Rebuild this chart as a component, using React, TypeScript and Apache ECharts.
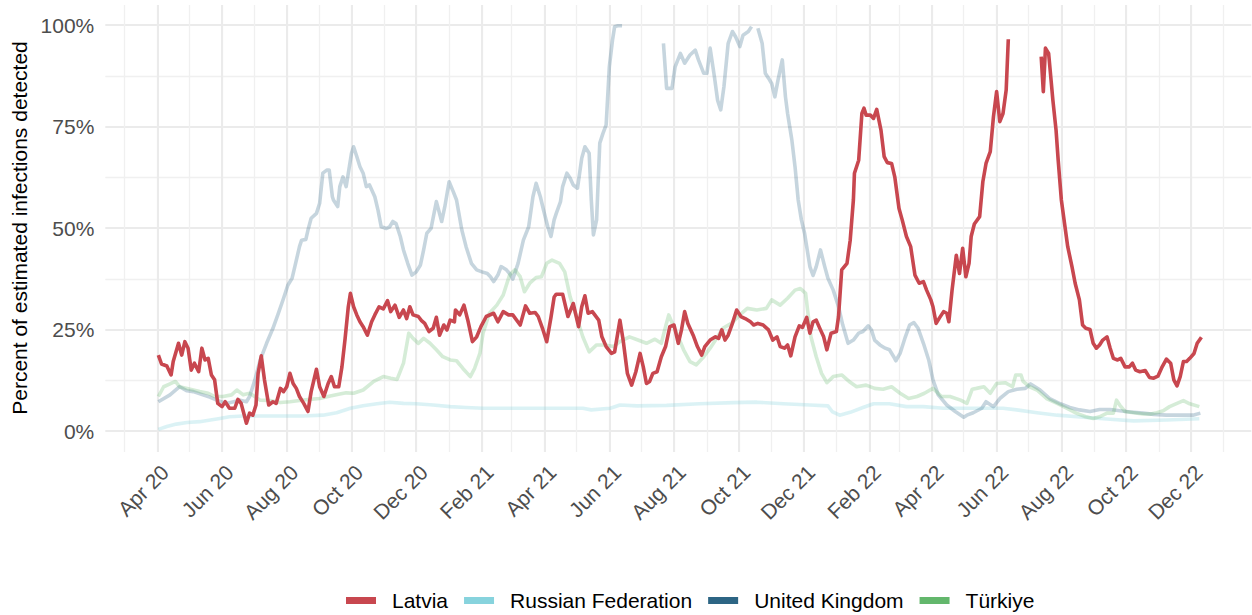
import React, { useEffect, useRef } from "react";
import * as echarts from "echarts";

// x axis: one category per day, from 2020-02-12 to 2023-01-27
const AXIS_START_UTC = Date.UTC(2020, 1, 12);
const AXIS_DAYS = 1080;
// series x values are days since 2020-04-01, which is 49 days after the axis start
const ORIGIN_OFFSET = 49;

const MONTHS = ["Jan", "Feb", "Mar", "Apr", "May", "Jun", "Jul", "Aug", "Sep", "Oct", "Nov", "Dec"];
const LABEL_MONTHS = [2, 4, 6, 8, 10, 12];
const Y_TICKS = [0, 25, 50, 75, 100];

const SERIES_NAMES = ["Latvia", "Russian Federation", "United Kingdom", "Türkiye"];
const SERIES_COLORS = ["#C8474F", "#87D3DD", "#2D6584", "#63B76C"];
const SERIES_FADE = [1, 0.3, 0.27, 0.27];

// [days since 2020-04-01, percent detected]
const LATVIA: [number, number | null][] = [
  [1,18.7],[4,16.5],[9,16.0],[13,13.8],[15,17.1],[20,21.6],[23,18.7],[26,22.0],[29,20.4],[32,15.0],[35,16.7],[39,14.6],[42,20.4],[45,17.5],[48,17.9],[51,13.8],[54,12.6],[57,6.8],[61,6.0],[64,7.2],[68,5.6],[73,5.6],[76,7.8],[79,6.8],[84,1.9],[87,4.4],[90,3.9],[93,6.4],[95,14.2],[98,18.5],[101,12.6],[105,6.4],[109,7.2],[112,6.8],[116,10.5],[119,9.7],[122,10.9],[125,14.2],[128,11.7],[131,10.5],[134,8.5],[138,6.8],[142,4.8],[145,9.7],[150,15.2],[153,10.9],[157,8.5],[161,11.7],[164,13.4],[167,10.9],[171,10.9],[174,15.8],[177,22.8],[180,30.6],[182,33.9],[185,30.6],[188,28.6],[191,26.9],[194,25.7],[198,23.6],[202,26.9],[205,28.6],[209,30.6],[213,30.1],[217,32.1],[220,29.4],[224,31.0],[228,28.0],[232,29.8],[235,27.7],[238,30.6],[241,28.6],[246,28.2],[249,27.2],[252,26.5],[256,24.5],[260,25.3],[263,28.0],[266,23.6],[270,26.1],[273,24.9],[276,27.3],[280,26.9],[281,29.8],[285,28.6],[289,31.0],[293,26.9],[297,22.0],[301,23.2],[305,25.7],[310,28.2],[317,29.0],[321,26.9],[326,29.4],[331,28.6],[335,28.6],[342,26.1],[347,30.8],[351,29.0],[356,29.2],[359,28.2],[363,25.3],[367,22.0],[371,28.0],[374,33.0],[376,33.7],[382,33.7],[387,28.2],[392,31.4],[397,25.7],[400,30.6],[403,33.3],[406,29.0],[410,29.4],[416,27.3],[419,23.2],[423,20.8],[428,19.1],[431,19.5],[436,27.3],[439,22.4],[443,14.2],[447,11.3],[451,14.6],[455,19.1],[458,15.8],[461,11.7],[464,12.2],[467,14.2],[471,14.6],[475,18.3],[479,20.8],[483,25.7],[487,26.1],[491,21.6],[494,24.9],[497,29.4],[500,26.5],[505,23.6],[509,20.8],[513,18.7],[516,20.8],[521,22.4],[526,23.2],[529,22.8],[532,24.9],[535,22.4],[538,23.6],[542,26.5],[546,29.8],[550,28.2],[554,27.7],[559,26.9],[562,26.1],[566,26.5],[571,26.1],[576,24.9],[580,22.4],[584,23.2],[587,20.8],[591,20.4],[594,21.2],[597,18.5],[601,23.2],[605,25.9],[608,25.5],[612,28.0],[615,24.1],[618,26.9],[621,27.3],[625,24.9],[628,23.2],[631,20.0],[635,24.1],[640,24.5],[642,28.2],[645,39.7],[650,41.3],[653,47.0],[656,56.9],[657,63.5],[661,66.7],[664,78.2],[666,79.5],[668,77.8],[672,77.8],[675,77.0],[678,79.2],[682,74.1],[685,67.6],[688,66.1],[692,65.9],[695,62.6],[699,54.8],[702,52.0],[706,47.9],[710,45.4],[714,38.4],[718,36.4],[722,36.8],[725,34.7],[729,32.3],[731,30.6],[734,26.5],[737,27.8],[741,29.4],[744,29.0],[746,26.9],[749,34.7],[753,43.3],[756,38.8],[759,45.0],[762,38.0],[765,41.3],[767,47.9],[770,51.0],[775,52.8],[778,61.4],[781,65.9],[785,68.8],[788,77.4],[791,83.6],[794,76.2],[797,78.2],[800,84.0],[802,96.5],[803,null],[833,92.2],[835,83.6],[837,94.3],[840,93.0],[842,87.3],[844,81.5],[847,74.1],[849,66.7],[852,56.9],[855,51.1],[858,45.4],[862,40.5],[865,36.4],[869,32.3],[872,26.1],[875,25.3],[879,25.0],[882,21.6],[885,20.4],[888,21.2],[891,22.4],[895,23.2],[898,20.4],[901,17.9],[905,17.5],[908,17.9],[912,15.8],[916,15.8],[919,16.7],[922,15.0],[926,14.6],[931,14.9],[935,13.2],[939,13.0],[943,13.5],[947,15.8],[951,17.7],[955,16.7],[958,12.6],[961,11.1],[964,13.4],[967,17.1],[970,17.1],[973,17.9],[977,19.1],[980,21.6],[984,23.1]
];

const RUSSIA: [number, number | null][] = [
  [1,0.4],[9,1.1],[18,1.7],[28,2.1],[40,2.3],[50,2.7],[59,3.1],[68,3.5],[81,3.7],[100,3.7],[119,3.7],[138,3.7],[156,3.9],[169,4.5],[182,5.6],[194,6.2],[207,6.7],[219,7.1],[232,6.8],[244,6.7],[260,6.4],[276,6.0],[291,5.8],[307,5.6],[323,5.6],[339,5.6],[354,5.6],[370,5.6],[401,5.6],[409,5.2],[427,5.6],[436,6.4],[452,6.2],[480,6.3],[511,6.7],[543,7.0],[565,7.1],[590,6.7],[615,6.4],[632,6.2],[636,4.8],[643,3.9],[653,4.6],[665,5.8],[675,6.7],[690,6.7],[706,6.0],[722,6.0],[741,5.6],[757,5.6],[779,5.6],[797,5.6],[810,5.2],[829,4.5],[848,3.9],[873,3.4],[898,2.9],[920,2.5],[951,2.7],[982,3.0]
];

const UNITED_KINGDOM: [number, number | null][] = [
  [1,7.2],[12,8.9],[21,10.9],[28,9.9],[34,9.7],[43,8.9],[50,8.3],[56,7.6],[65,6.8],[78,7.6],[84,7.2],[87,8.5],[92,12.6],[97,17.5],[103,21.6],[109,25.3],[114,28.9],[119,32.7],[123,35.9],[127,37.6],[130,40.9],[134,45.4],[136,47.0],[140,47.2],[142,49.5],[145,52.4],[150,53.6],[153,56.1],[156,63.5],[160,64.3],[162,64.3],[165,57.7],[166,56.9],[170,55.3],[172,60.2],[175,62.6],[178,60.2],[180,63.5],[183,68.4],[185,70.0],[188,67.6],[191,65.1],[194,63.5],[197,60.2],[200,60.6],[205,57.7],[208,54.4],[211,50.3],[216,49.9],[219,50.3],[222,51.6],[225,51.1],[229,47.9],[232,44.6],[236,41.3],[240,38.4],[244,39.2],[248,40.9],[251,44.6],[254,48.7],[258,49.9],[263,56.5],[268,51.6],[271,55.3],[275,61.4],[279,58.9],[282,56.9],[287,49.5],[291,45.4],[296,41.3],[301,39.7],[306,39.2],[311,38.8],[314,38.0],[317,36.8],[321,38.4],[324,40.5],[329,39.7],[332,38.8],[335,37.4],[340,41.3],[345,47.0],[350,50.3],[354,57.7],[357,61.0],[361,57.7],[364,54.4],[368,50.3],[371,47.9],[374,52.0],[376,53.6],[380,56.5],[382,60.2],[386,63.5],[389,62.3],[392,60.6],[396,59.8],[400,67.2],[403,70.0],[407,68.4],[409,56.9],[411,48.3],[414,52.0],[417,70.9],[420,73.3],[423,75.4],[426,89.7],[429,96.3],[431,99.6],[434,99.8],[438,99.8],[439,null],[477,95.5],[480,84.4],[485,84.4],[488,89.7],[493,93.0],[497,90.6],[502,92.6],[507,93.8],[510,91.4],[515,88.1],[518,88.1],[521,94.3],[525,87.3],[528,81.5],[531,79.1],[534,84.8],[538,95.5],[542,98.4],[545,97.1],[549,94.7],[552,97.5],[557,98.4],[560,99.6],[563,null],[566,99.2],[570,95.5],[573,88.1],[576,86.9],[579,85.6],[582,82.3],[585,86.5],[589,91.4],[592,82.3],[594,78.2],[598,71.7],[601,65.1],[604,56.9],[607,52.0],[610,48.7],[615,40.5],[618,38.3],[621,40.5],[625,44.6],[629,40.5],[632,37.6],[637,34.7],[642,30.6],[646,26.1],[651,21.6],[656,22.4],[661,24.1],[665,24.5],[670,25.9],[673,24.9],[676,22.4],[681,21.2],[686,20.4],[690,20.0],[694,18.3],[696,17.3],[700,19.1],[705,23.2],[709,26.1],[713,26.7],[717,25.3],[722,21.6],[727,17.5],[731,12.6],[736,8.9],[744,6.4],[752,4.8],[760,3.4],[763,3.9],[769,4.5],[777,5.6],[781,7.2],[788,6.0],[794,8.0],[802,9.7],[810,10.3],[818,10.5],[823,11.6],[832,10.1],[841,8.0],[851,6.7],[860,5.8],[869,5.2],[879,4.8],[888,5.3],[898,5.3],[907,5.0],[917,4.7],[929,4.4],[939,4.1],[951,3.9],[967,3.9],[976,3.9],[983,4.4]
];

const TURKIYE: [number, number | null][] = [
  [1,8.5],[6,10.9],[12,11.6],[17,12.2],[21,10.9],[31,10.3],[40,9.7],[48,9.3],[54,8.5],[62,8.5],[70,8.9],[75,10.1],[81,8.9],[87,9.3],[97,7.6],[106,7.5],[116,7.0],[125,7.2],[134,7.5],[144,7.8],[153,8.0],[163,8.6],[172,9.1],[178,9.4],[185,9.3],[194,10.1],[204,12.2],[213,13.4],[220,13.0],[226,12.7],[232,16.7],[237,24.1],[241,22.8],[246,21.6],[251,22.8],[257,21.6],[263,20.0],[269,18.3],[276,17.5],[282,17.3],[288,15.4],[295,13.4],[299,15.4],[304,19.1],[307,24.1],[313,29.0],[320,31.0],[326,33.5],[332,38.4],[337,39.7],[342,38.0],[346,34.3],[351,36.4],[357,37.8],[362,38.0],[367,41.3],[372,42.1],[379,41.3],[384,39.2],[389,33.1],[395,28.2],[401,23.2],[407,19.5],[414,21.2],[422,21.2],[430,20.8],[436,22.0],[445,23.2],[453,22.4],[461,21.6],[469,22.6],[475,21.6],[479,25.7],[482,28.6],[486,26.1],[491,23.2],[496,20.0],[502,17.1],[508,16.3],[515,18.3],[521,20.4],[527,22.8],[533,25.3],[541,26.5],[549,28.6],[556,30.2],[565,29.8],[574,30.2],[579,32.3],[587,31.0],[594,32.7],[601,34.7],[606,35.1],[611,33.9],[613,29.4],[616,23.2],[621,18.3],[626,14.2],[631,11.9],[637,13.4],[645,13.8],[653,12.0],[659,10.9],[668,11.3],[676,10.5],[684,10.3],[692,10.9],[700,9.3],[708,8.0],[716,8.5],[723,9.3],[731,10.5],[739,8.5],[747,8.5],[757,7.6],[763,6.8],[768,10.3],[772,10.5],[779,10.9],[785,9.3],[791,11.7],[799,11.9],[806,10.9],[809,13.8],[814,13.8],[816,12.2],[822,10.9],[829,10.1],[838,8.0],[848,6.8],[857,5.6],[866,4.4],[875,3.5],[882,3.1],[888,3.5],[895,4.4],[901,4.4],[904,7.6],[907,6.4],[912,4.8],[920,4.5],[929,4.2],[936,4.2],[942,4.5],[948,5.0],[954,6.0],[961,6.8],[967,7.5],[973,6.7],[982,6.0]
];

const SERIES_DATA = [LATVIA, RUSSIA, UNITED_KINGDOM, TURKIYE];

const FONT = "'Liberation Sans', Arial, Helvetica, sans-serif";

function buildDates(): string[] {
  const out: string[] = [];
  for (let i = 0; i <= AXIS_DAYS; i++) {
    out.push(new Date(AXIS_START_UTC + i * 86400000).toISOString().slice(0, 10));
  }
  return out;
}

function isMonthStart(v: string) {
  return v.slice(8, 10) === "01";
}
function isLabelMonth(v: string) {
  return isMonthStart(v) && LABEL_MONTHS.indexOf(Number(v.slice(5, 7))) >= 0;
}

function hexToRgba(hex: string, a: number) {
  const n = parseInt(hex.slice(1), 16);
  return `rgba(${(n >> 16) & 255},${(n >> 8) & 255},${n & 255},${a})`;
}

export default function App() {
  const ref = useRef<HTMLDivElement>(null);

  useEffect(() => {
    document.body.style.margin = "0";
    if (!ref.current) return;
    const chart = echarts.init(ref.current, undefined, { renderer: "svg" });
    const dates = buildDates();

    const gridLeft = 105.3;
    const gridRight = 0.7;

    // draw order: faded series first, Latvia on top
    const order = [1, 2, 3, 0];
    const series = order.map((i) => ({
      type: "line",
      name: SERIES_NAMES[i],
      xAxisIndex: 1,
      yAxisIndex: 1,
      data: SERIES_DATA[i].map(([d, v]) => [d + ORIGIN_OFFSET, v]),
      symbol: "none",
      showSymbol: false,
      connectNulls: false,
      clip: false,
      silent: true,
      color: SERIES_COLORS[i],
      lineStyle: {
        width: 3.6,
        color: SERIES_FADE[i] < 1 ? hexToRgba(SERIES_COLORS[i], SERIES_FADE[i]) : SERIES_COLORS[i],
        cap: "butt",
        join: "round",
      },
      emphasis: { disabled: true },
      z: i === 0 ? 4 : 3,
    }));

    const option: any = {
      animation: false,
      backgroundColor: "#ffffff",
      textStyle: { fontFamily: FONT },
      grid: [
        { left: gridLeft, right: gridRight, top: 5, bottom: 163 },
        { left: gridLeft, right: gridRight, top: 25, bottom: 184 },
      ],
      xAxis: [
        {
          gridIndex: 0,
          type: "category",
          data: dates,
          boundaryGap: false,
          axisLine: { show: false },
          axisTick: { show: false },
          axisLabel: {
            show: true,
            interval: (_i: number, v: string) => isLabelMonth(v),
            formatter: (v: string) => `${MONTHS[Number(v.slice(5, 7)) - 1]} ${v.slice(2, 4)}`,
            rotate: 45,
            align: "right",
            verticalAlign: "top",
            lineHeight: 22,
            margin: 9,
            fontSize: 21,
            color: "#4D4D4D",
            fontFamily: FONT,
          },
          splitLine: {
            show: true,
            interval: (_i: number, v: string) => isMonthStart(v),
            lineStyle: { color: "#F0F0F0", width: 1.3 },
          },
        },
        {
          gridIndex: 1,
          type: "category",
          data: dates,
          boundaryGap: false,
          show: false,
          splitLine: { show: false },
        },
        {
          gridIndex: 0,
          type: "category",
          data: dates,
          boundaryGap: false,
          axisLine: { show: false },
          axisTick: { show: false },
          axisLabel: { show: false },
          splitLine: {
            show: true,
            interval: (_i: number, v: string) => isLabelMonth(v),
            lineStyle: { color: "#EBEBEB", width: 2 },
          },
        },
      ],
      yAxis: [
        {
          gridIndex: 0,
          type: "value",
          min: -5,
          max: 105,
          show: false,
          splitLine: { show: false },
        },
        {
          gridIndex: 1,
          type: "value",
          min: Y_TICKS[0],
          max: Y_TICKS[Y_TICKS.length - 1],
          interval: Y_TICKS[1] - Y_TICKS[0],
          axisLine: { show: false },
          axisTick: { show: false },
          axisLabel: {
            formatter: (v: number) => `${v}%`,
            margin: 11,
            fontSize: 21,
            color: "#4D4D4D",
            fontFamily: FONT,
          },
          splitLine: { show: true, lineStyle: { color: "#EBEBEB", width: 2 } },
          minorTick: { show: false, splitNumber: 2 },
          minorSplitLine: { show: true, lineStyle: { color: "#F0F0F0", width: 1.3 } },
          name: "Percent of estimated infections detected",
          nameLocation: "middle",
          nameGap: 73,
          nameTextStyle: { fontSize: 21, color: "#000000", fontFamily: FONT },
        },
      ],
      legend: {
        show: true,
        orient: "horizontal",
        left: 346,
        top: 590,
        padding: 0,
        itemGap: 16,
        itemWidth: 30,
        itemHeight: 7,
        icon: "rect",
        selectedMode: false,
        itemStyle: { borderWidth: 0 },
        textStyle: { fontSize: 21, color: "#000000", fontFamily: FONT, padding: [0, 0, 0, 11] },
        data: SERIES_NAMES.map((n, i) => ({
          name: n,
          icon: "rect",
          itemStyle: { color: SERIES_COLORS[i], opacity: 1, borderWidth: 0 },
        })),
      },
      series,
    };

    chart.setOption(option);
    return () => chart.dispose();
  }, []);

  return <div ref={ref} style={{ width: 1252, height: 615 }} />;
}
